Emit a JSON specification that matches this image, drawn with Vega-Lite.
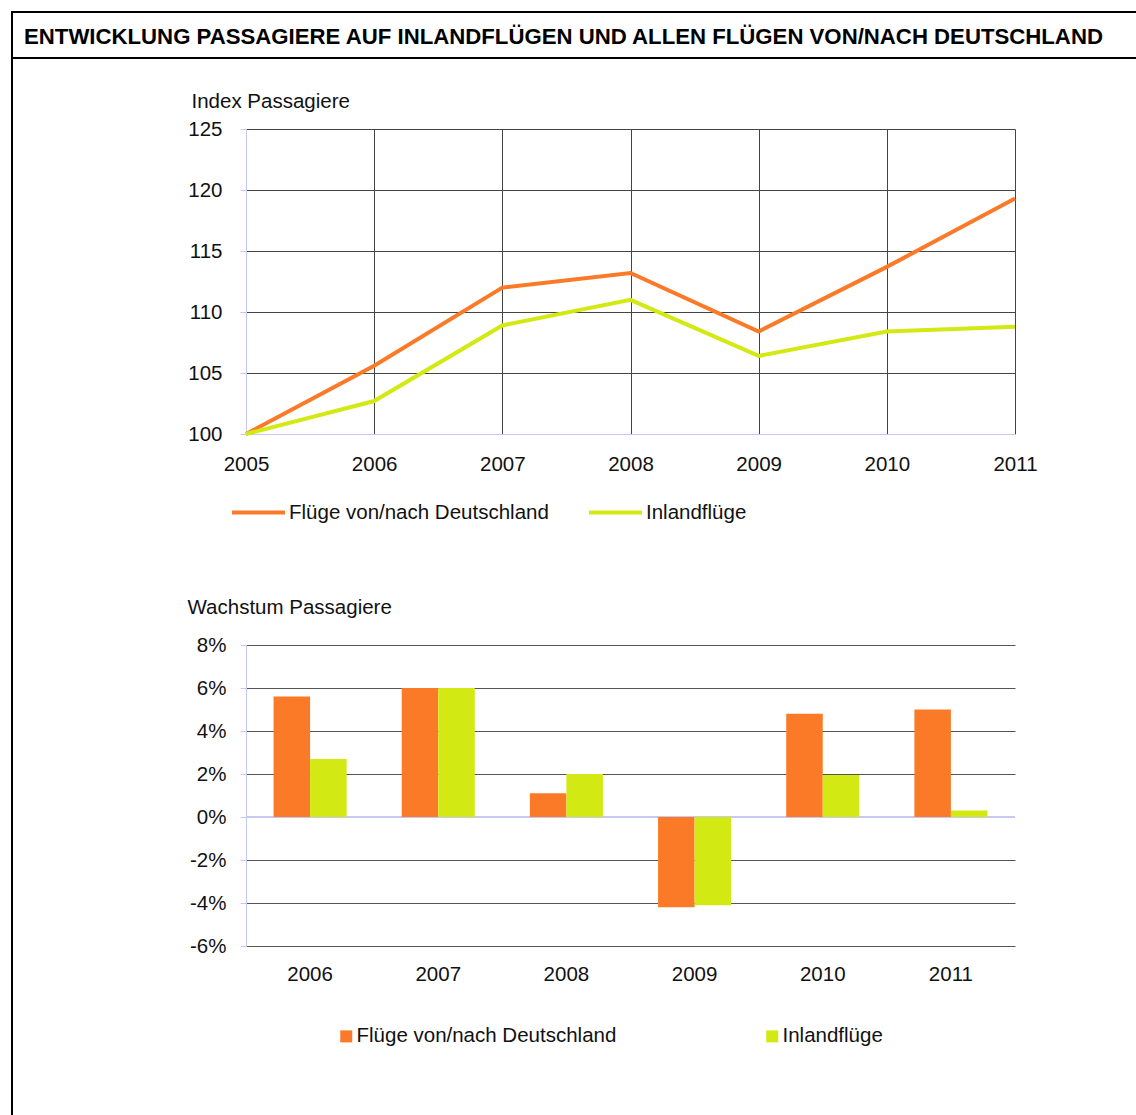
{
  "$schema": "https://vega.github.io/schema/vega-lite/v6.json",
  "padding": {"left": 11, "top": 11, "right": 0, "bottom": 0},
  "background": "white",
  "config": {
    "view": {"stroke": null},
    "font": "Liberation Sans",
    "axis": {"labelFont": "Liberation Sans", "labelFontSize": 20.5, "labelColor": "#111111", "titleFont": "Liberation Sans", "titleFontSize": 20.5, "titleFontWeight": "normal", "titleColor": "#111111"},
    "legend": {"labelFont": "Liberation Sans", "labelFontSize": 20.5, "labelColor": "#111111", "labelLimit": 500}
  },
  "datasets": {
    "index": [
      {"year": 2005, "series": "Flüge von/nach Deutschland", "value": 100},
      {"year": 2006, "series": "Flüge von/nach Deutschland", "value": 105.6},
      {"year": 2007, "series": "Flüge von/nach Deutschland", "value": 112.0},
      {"year": 2008, "series": "Flüge von/nach Deutschland", "value": 113.2},
      {"year": 2009, "series": "Flüge von/nach Deutschland", "value": 108.4},
      {"year": 2010, "series": "Flüge von/nach Deutschland", "value": 113.7},
      {"year": 2011, "series": "Flüge von/nach Deutschland", "value": 119.3},
      {"year": 2005, "series": "Inlandflüge", "value": 100},
      {"year": 2006, "series": "Inlandflüge", "value": 102.7},
      {"year": 2007, "series": "Inlandflüge", "value": 108.9},
      {"year": 2008, "series": "Inlandflüge", "value": 111.0},
      {"year": 2009, "series": "Inlandflüge", "value": 106.4},
      {"year": 2010, "series": "Inlandflüge", "value": 108.4},
      {"year": 2011, "series": "Inlandflüge", "value": 108.8}
    ],
    "growth": [
      {"year": 2006, "series": "Flüge von/nach Deutschland", "value": 5.6},
      {"year": 2007, "series": "Flüge von/nach Deutschland", "value": 6.0},
      {"year": 2008, "series": "Flüge von/nach Deutschland", "value": 1.1},
      {"year": 2009, "series": "Flüge von/nach Deutschland", "value": -4.2},
      {"year": 2010, "series": "Flüge von/nach Deutschland", "value": 4.8},
      {"year": 2011, "series": "Flüge von/nach Deutschland", "value": 5.0},
      {"year": 2006, "series": "Inlandflüge", "value": 2.7},
      {"year": 2007, "series": "Inlandflüge", "value": 6.0},
      {"year": 2008, "series": "Inlandflüge", "value": 2.0},
      {"year": 2009, "series": "Inlandflüge", "value": -4.1},
      {"year": 2010, "series": "Inlandflüge", "value": 1.95},
      {"year": 2011, "series": "Inlandflüge", "value": 0.3}
    ]
  },
  "spacing": 0,
  "vconcat": [
    {
      "width": 1126,
      "height": 46,
      "view": {"stroke": "black", "strokeWidth": 2},
      "title": {
        "text": "ENTWICKLUNG PASSAGIERE AUF INLANDFLÜGEN UND ALLEN FLÜGEN VON/NACH DEUTSCHLAND",
        "orient": "top", "anchor": "start", "frame": "group",
        "offset": -54, "dx": 12, "baseline": "alphabetic",
        "font": "Liberation Sans", "fontSize": 22.2, "fontWeight": "bold", "color": "black"
      },
      "data": {"values": []},
      "mark": "point"
    },
    {
      "spacing": 173,
      "hconcat": [
        {
          "width": 0.001,
          "height": 1056,
          "view": {"stroke": "black", "strokeWidth": 2},
          "data": {"values": []},
          "mark": "point"
        },
        {
          "spacing": 0,
          "vconcat": [
            {"width": 0.001, "height": 31, "data": {"values": []}, "mark": "point"},
            {
              "spacing": 74,
              "resolve": {"scale": {"color": "independent"}, "legend": {"color": "independent"}},
              "vconcat": [
                {
                  "width": 769,
                  "height": 305,
                  "data": {"name": "index"},
                  "mark": {"type": "line", "strokeWidth": 4},
                  "encoding": {
                    "x": {
                      "field": "year", "type": "ordinal",
                      "scale": {"type": "point", "padding": 0},
                      "axis": {
                        "title": null, "labelAngle": 0, "grid": true,
                        "gridColor": "#444444",
                        "gridOpacity": {"condition": {"test": "datum.value == 2005", "value": 0}, "value": 1},
                        "domainColor": "#c8c8f4", "ticks": false, "tickSize": 0, "labelPadding": 20
                      }
                    },
                    "y": {
                      "field": "value", "type": "quantitative",
                      "scale": {"domain": [100, 125], "zero": false, "nice": false},
                      "axis": {
                        "title": "Index Passagiere", "titleAngle": 0, "titleAlign": "left", "titleBaseline": "alphabetic",
                        "titleX": -55, "titleY": -22,
                        "values": [100, 105, 110, 115, 120, 125],
                        "grid": true, "gridColor": "#444444",
                        "gridOpacity": {"condition": {"test": "datum.value == 100", "value": 0}, "value": 1},
                        "domainColor": "#c8c8f4", "tickColor": "#c8c8f4", "tickSize": 6, "labelPadding": 18
                      }
                    },
                    "color": {
                      "field": "series", "type": "nominal",
                      "scale": {"domain": ["Flüge von/nach Deutschland", "Inlandflüge"], "range": ["#fb7a28", "#d3e913"]},
                      "legend": {
                        "title": null, "orient": "none", "direction": "horizontal",
                        "legendX": -16, "legendY": 355,
                        "symbolType": "stroke", "symbolSize": 2809, "symbolStrokeWidth": 4,
                        "labelOffset": 2, "columnPadding": 32
                      }
                    }
                  }
                },
                {
                  "width": 769,
                  "height": 301,
                  "data": {"name": "growth"},
                  "layer": [
                    {
                      "mark": {"type": "rule", "color": "#c8c8f4", "strokeWidth": 1},
                      "encoding": {"y": {"datum": 0}}
                    },
                    {
                      "mark": {"type": "bar"},
                      "encoding": {
                        "x": {
                          "field": "year", "type": "ordinal",
                          "scale": {"paddingInner": 0.43, "paddingOuter": 0.215},
                          "axis": {"title": null, "labelAngle": 0, "domain": false, "ticks": false, "tickSize": 0, "labelPadding": 18}
                        },
                        "xOffset": {
                          "field": "series", "type": "nominal",
                          "scale": {"domain": ["Flüge von/nach Deutschland", "Inlandflüge"], "paddingInner": 0, "paddingOuter": 0}
                        },
                        "y": {
                          "field": "value", "type": "quantitative",
                          "scale": {"domain": [-6, 8], "nice": false},
                          "axis": {
                            "title": "Wachstum Passagiere", "titleAngle": 0, "titleAlign": "left", "titleBaseline": "alphabetic",
                            "titleX": -59, "titleY": -32,
                            "values": [-6, -4, -2, 0, 2, 4, 6, 8],
                            "labelExpr": "datum.value + '%'",
                            "grid": true, "gridColor": "#555555",
                            "gridOpacity": {"condition": {"test": "datum.value == 0", "value": 0}, "value": 1},
                            "domainColor": "#c8c8f4", "tickColor": "#c8c8f4", "tickSize": 6, "labelPadding": 14
                          }
                        },
                        "color": {
                          "field": "series", "type": "nominal",
                          "scale": {"domain": ["Flüge von/nach Deutschland", "Inlandflüge"], "range": ["#fb7a28", "#d3e913"]},
                          "legend": {
                            "title": null, "orient": "none", "direction": "horizontal",
                            "legendX": 90, "legendY": 381,
                            "symbolType": "square", "symbolSize": 144,
                            "labelOffset": 0, "columnPadding": 145
                          }
                        }
                      }
                    }
                  ]
                }
              ]
            }
          ]
        }
      ]
    }
  ]
}
